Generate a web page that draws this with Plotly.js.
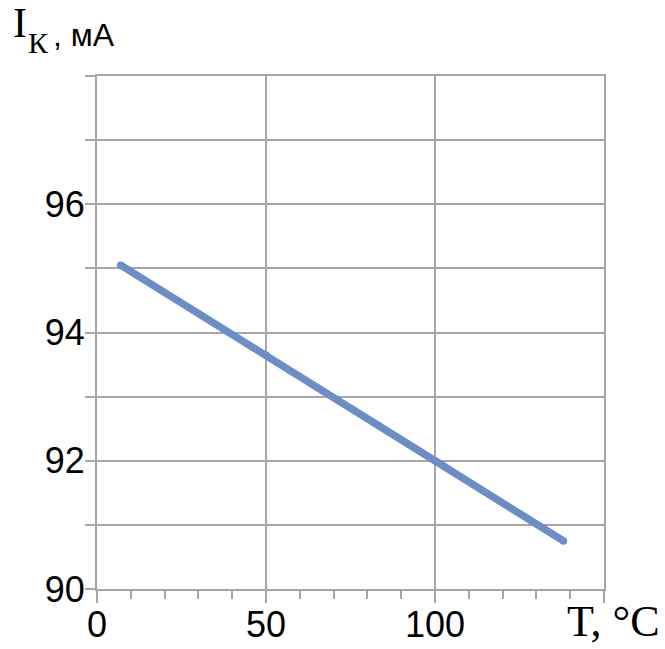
<!DOCTYPE html>
<html>
<head>
<meta charset="utf-8">
<script src="https://cdn.plot.ly/plotly-3.0.1.min.js"></script>
<style>
html, body { margin: 0; padding: 0; background: #ffffff; }
#chart { width: 665px; height: 649px; }
</style>
</head>
<body>
<div id="chart"></div>
<script>
// Data
var temperature = [7, 50, 100, 138];          // T, °C
var current = [95.05, 93.65, 92.0, 90.75];    // I_K, mA

var yTickVals = [90, 91, 92, 93, 94, 95, 96, 97, 98];
var yTickText = ['90', '', '92', '', '94', '', '96', '', ''];
var xTickVals = [0, 50, 100, 150];
var xTickText = ['0', '50', '100', ''];

var gridColor = '#a6a6a6';
var lineColor = '#6b8ec6';

var trace = {
  x: temperature,
  y: current,
  type: 'scatter',
  mode: 'lines+markers',
  line: { color: lineColor, width: 7.5 },
  marker: { color: lineColor, size: 7.5 },
  hoverinfo: 'skip'
};

var W = 665, H = 649;
var L = 97, R = 61, T = 76, B = 60;
var pw = W - L - R, ph = H - T - B;
function px(x) { return (x - L) / pw; }
function py(y) { return (H - B - y) / ph; }

var layout = {
  width: W,
  height: H,
  margin: { l: L, r: R, t: T, b: B, pad: 0 },
  paper_bgcolor: '#ffffff',
  plot_bgcolor: '#ffffff',
  showlegend: false,
  font: { family: 'Liberation Sans, Arial, sans-serif', color: '#000000' },
  xaxis: {
    range: [0, 150],
    tickvals: xTickVals,
    ticktext: xTickText,
    ticks: 'outside',
    ticklen: 12,
    tickwidth: 2,
    tickcolor: gridColor,
    ticklabelstandoff: -9,
    showgrid: true,
    gridcolor: gridColor,
    gridwidth: 2,
    showline: true,
    linecolor: gridColor,
    linewidth: 2,
    mirror: true,
    zeroline: false,
    tickfont: { size: 36, family: 'Liberation Sans, Arial, sans-serif', color: '#000' },
    minor: { dtick: 10, ticks: 'outside', ticklen: 8, tickwidth: 2, tickcolor: gridColor, showgrid: false }
  },
  yaxis: {
    range: [90, 98],
    tickvals: yTickVals,
    ticktext: yTickText,
    ticks: 'outside',
    ticklen: 10,
    tickwidth: 2,
    tickcolor: gridColor,
    ticklabelstandoff: -7,
    showgrid: true,
    gridcolor: gridColor,
    gridwidth: 2,
    showline: true,
    linecolor: gridColor,
    linewidth: 2,
    mirror: true,
    zeroline: false,
    tickfont: { size: 36, family: 'Liberation Sans, Arial, sans-serif', color: '#000' }
  },
  annotations: [
    { xref: 'paper', yref: 'paper', x: px(11), y: py(48), xanchor: 'left', yanchor: 'bottom',
      text: 'I', showarrow: false,
      font: { family: 'Liberation Serif, Times New Roman, serif', size: 42, color: '#000' } },
    { xref: 'paper', yref: 'paper', x: px(26), y: py(61), xanchor: 'left', yanchor: 'bottom',
      text: 'К', showarrow: false,
      font: { family: 'Liberation Serif, Times New Roman, serif', size: 30, color: '#000' } },
    { xref: 'paper', yref: 'paper', x: px(51), y: py(55), xanchor: 'left', yanchor: 'bottom',
      text: ', мА', showarrow: false,
      font: { family: 'Liberation Sans, Arial, sans-serif', size: 32, color: '#000' } },
    { xref: 'paper', yref: 'paper', x: px(565), y: py(648), xanchor: 'left', yanchor: 'bottom',
      text: 'T, °C', showarrow: false,
      font: { family: 'Liberation Serif, Times New Roman, serif', size: 44, color: '#000' } }
  ]
};

Plotly.newPlot('chart', [trace], layout, { displayModeBar: false, staticPlot: true });
</script>
</body>
</html>
